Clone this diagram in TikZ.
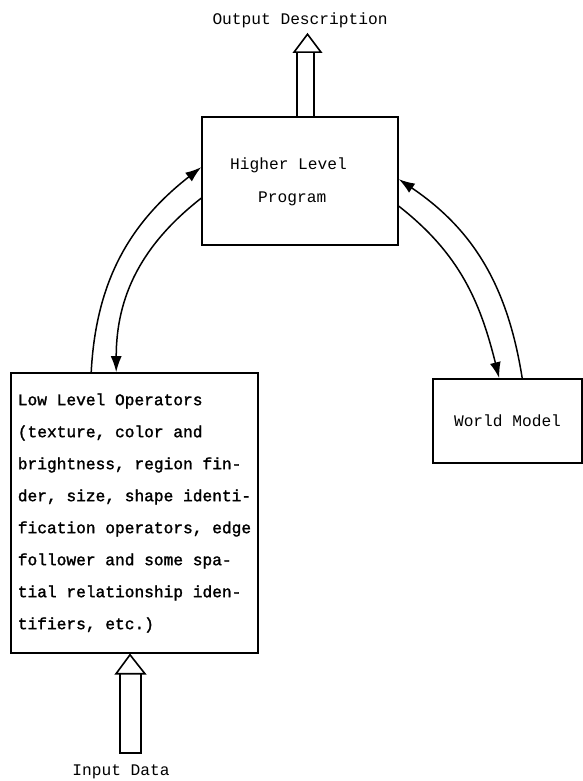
\documentclass[tikz,border=0pt]{standalone}
\usepackage{fontspec}
\newfontfamily\tw{Liberation Mono}
\newfontfamily\twb[FakeBold=1.6]{Liberation Mono}
\usetikzlibrary{arrows.meta,calc}
\tikzset{
  box/.style={draw,line width=1.6pt,inner sep=0pt},
  lbl/.style={font=\tw\fontsize{16.2}{32}\selectfont,inner sep=0pt},
  link/.style={line width=1.5pt,-{Latex[length=16pt,width=11pt]}},
  hollow/.style={draw,line width=1.6pt,line join=miter}
}
\begin{document}
\begin{tikzpicture}[x=1pt,y=1pt]
\useasboundingbox (0,0) rectangle (583,781);
% boxes
\node[box,minimum width=196pt,minimum height=128pt] (hl) at (300,600) {};
\node[box,minimum width=247pt,minimum height=280pt,align=left,
      font=\twb\fontsize{16.2}{32}\selectfont] (ll) at (134.5,268)
  {Low Level Operators\\(texture, color and\\brightness, region fin-\\der, size, shape identi-\\fication operators, edge\\follower and some spa-\\tial relationship iden-\\tifiers, etc.)};
\node[box,minimum width=149pt,minimum height=84pt,lbl] (wm) at (507.5,360) {World Model};
% texts
\node[lbl,anchor=base west] (t1) at (230,611.5) {Higher Level};
\node[lbl,anchor=base west] (t2) at (258,578) {Program};
\node[lbl] (out) at (300,761) {Output Description};
\node[lbl] (in) at (121,9) {Input Data};
% hollow output arrow
\draw[hollow] ([xshift=-3pt]hl.north) -- ++(0,64) ([xshift=14pt]hl.north) -- ++(0,64);
\draw[hollow] ([xshift=-6pt,yshift=64pt]hl.north) -- ([xshift=21pt,yshift=64pt]hl.north)
  -- ([xshift=7.5pt,yshift=82pt]hl.north) -- cycle;
% hollow input arrow
\draw[hollow] ([xshift=-14.5pt,yshift=-20pt]ll.south) -- ([xshift=-14.5pt,yshift=-99pt]ll.south)
  -- ([xshift=6.5pt,yshift=-99pt]ll.south) -- ([xshift=6.5pt,yshift=-20pt]ll.south);
\draw[hollow] ([xshift=-18.5pt,yshift=-20pt]ll.south) -- ([xshift=10.5pt,yshift=-20pt]ll.south)
  -- ([xshift=-4.5pt,yshift=-1pt]ll.south) -- cycle;
% curved connectors
\draw[link] ([xshift=81pt]ll.north west) to[out=87,in=218] ([yshift=-51pt]hl.north west);
\draw[link] ([yshift=-82pt]hl.north west) to[out=218,in=90] ([xshift=106pt]ll.north west);
\draw[link] ([xshift=90pt]wm.north west) to[out=99,in=-34] ([yshift=-63pt]hl.north east);
\draw[link] ([yshift=-90pt]hl.north east) to[out=-38,in=104] ([xshift=67pt]wm.north west);
\end{tikzpicture}
\end{document}
